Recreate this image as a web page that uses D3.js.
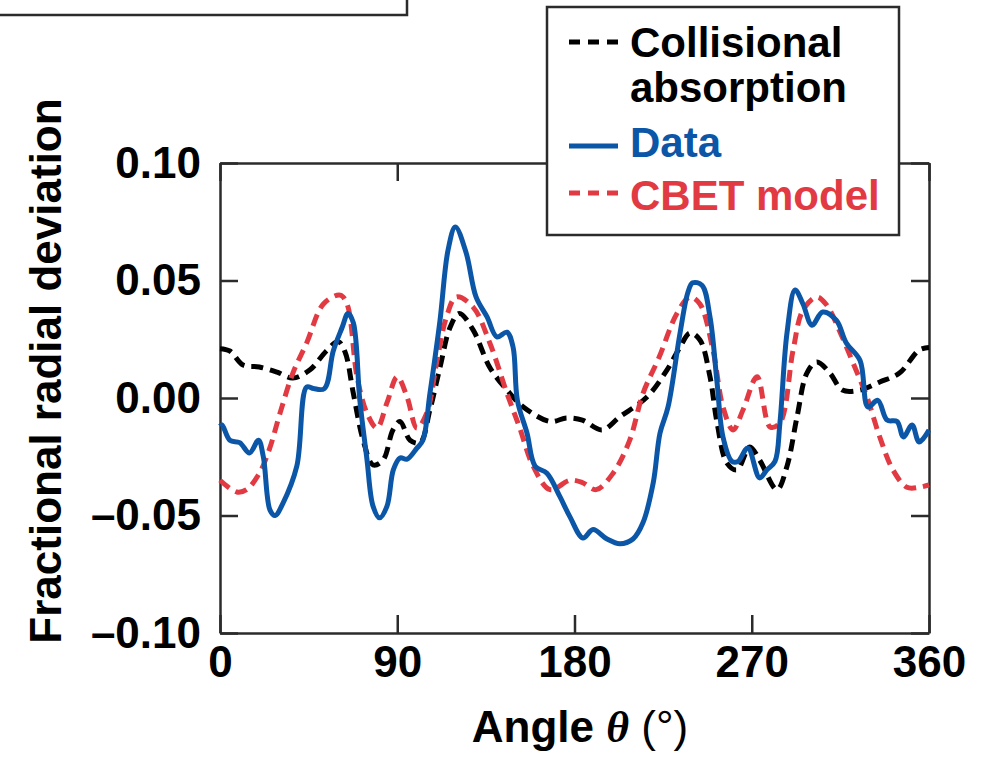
<!DOCTYPE html>
<html>
<head>
<meta charset="utf-8">
<script src="https://cdn.jsdelivr.net/npm/d3@7"></script>
<style>
  body { margin: 0; background: #fff; }
  svg text { font-family: "Liberation Sans", Arial, Helvetica, sans-serif; }
</style>
</head>
<body>
<svg id="chart"></svg>
<script>
// angle (deg), value pairs
const collisional = [
  [0, 0.021], [5, 0.020], [11.7, 0.014], [20, 0.0132], [29, 0.011], [37, 0.0085],
  [45.7, 0.012], [54, 0.020], [60, 0.024], [63.5, 0.0196], [67.7, 0.002], [72.7, -0.018],
  [77.7, -0.0285], [82.8, -0.0264], [87.8, -0.0136], [91.4, -0.010], [96.5, -0.018],
  [101.6, -0.019], [106.6, -0.005], [111.7, 0.013], [116.8, 0.030], [121.5, 0.036],
  [128.5, 0.029], [137, 0.013], [145.7, 0.0034], [154, -0.0038], [167.6, -0.010],
  [176, -0.0085], [184, -0.0094], [194, -0.0136], [203, -0.008], [216.8, 0.0004],
  [227, 0.012], [233.6, 0.0217], [238.6, 0.0277], [243.7, 0.0247], [248.8, 0.009],
  [252.4, -0.0106], [257.4, -0.0277], [262.5, -0.0306], [269, -0.0208], [274, -0.0264],
  [282.8, -0.039], [287.9, -0.029], [293, -0.008], [298, 0.0106], [303, 0.0153],
  [309.7, 0.0106], [316, 0.0034], [325, 0.0034], [335, 0.0068], [345, 0.0106],
  [355, 0.0204], [360, 0.0215]
];

const cbet = [
  [0, -0.035], [8.5, -0.040], [13.5, -0.039], [20, -0.032], [25, -0.022], [30.5, -0.0064],
  [37, 0.0106], [44, 0.0234], [52.5, 0.040], [61, 0.0438], [64.5, 0.040], [69.6, 0.009],
  [74.6, -0.0064], [79.7, -0.0128], [84.8, -0.002], [90, 0.009], [95, 0.0004],
  [100, -0.0128], [105, -0.0064], [110, 0.015], [115, 0.0345], [120, 0.043],
  [128.5, 0.0387], [137, 0.0234], [145.7, 0.002], [152, -0.0123], [159, -0.029],
  [167.6, -0.039], [177.7, -0.035], [184, -0.036], [191, -0.039], [199.6, -0.032],
  [208, -0.018], [214.8, 0.002], [223, 0.0174], [232, 0.036], [238.6, 0.043],
  [243.7, 0.040], [250.3, 0.0204], [255.4, -0.0038], [260.5, -0.0136], [265.6, -0.005],
  [272.7, 0.009], [279.3, -0.0123], [284.3, -0.0106], [291, 0.0204], [296, 0.0374],
  [303, 0.043], [308, 0.0396], [315, 0.0277], [321.4, 0.015], [328.5, 0.0004],
  [335, -0.0166], [341.7, -0.0306], [348.8, -0.038], [355, -0.038], [360, -0.037]
];

const measured = [
  [0, -0.012], [1, -0.0115], [5, -0.018], [10, -0.019], [15, -0.0234], [19.5, -0.018],
  [22, -0.025], [25.4, -0.0477], [28, -0.050], [32, -0.0447], [39, -0.029], [44, 0.0047],
  [47.5, 0.004], [53, 0.004], [57.5, 0.020], [62, 0.030], [65, 0.036], [67.7, 0.032],
  [71, -0.001], [74.6, -0.026], [77.7, -0.046], [81, -0.051], [84.8, -0.046],
  [88, -0.0306], [91.4, -0.0255], [95, -0.026], [100, -0.0213], [103, -0.018],
  [106.6, 0.002], [111.7, 0.033], [115.8, 0.063], [119.5, 0.0728], [125, 0.0617],
  [130, 0.043], [135.6, 0.0345], [140.6, 0.026], [145.7, 0.028], [148.8, 0.0217],
  [151, -0.001], [155.9, -0.015], [160, -0.029], [166, -0.032], [172.6, -0.042],
  [177.7, -0.0506], [184.3, -0.0596], [189.4, -0.056], [196.5, -0.060], [203, -0.062],
  [209.7, -0.060], [214.8, -0.053], [220, -0.036], [223.4, -0.015], [227.5, -0.0038],
  [233.6, 0.0277], [237.6, 0.045], [240, 0.049], [244.7, 0.048], [248.8, 0.0345],
  [252.4, 0.0064], [255.4, -0.0166], [260, -0.027], [263, -0.027], [268, -0.0213],
  [274, -0.034], [277.7, -0.0306], [281.8, -0.027], [284.3, -0.0106], [287.9, 0.0277],
  [292, 0.046], [296, 0.040], [300.6, 0.031], [306, 0.0366], [313, 0.033], [318, 0.0234],
  [325, 0.016], [329, -0.0038], [334, -0.001], [338.7, -0.0094], [343.8, -0.010],
  [347, -0.0166], [351.4, -0.0115], [355, -0.0187], [360, -0.0136]
];

const xTicks = [0, 90, 180, 270, 360];
const yTicks = [-0.10, -0.05, 0.00, 0.05, 0.10];

const legendItems = [
  { lines: ["Collisional", "absorption"], color: "#000", dash: "11,8" },
  { lines: ["Data"], color: "#0b56a6", dash: null },
  { lines: ["CBET model"], color: "#e23a43", dash: "11,8" }
];

const width = 988, height = 761;
const frame = "#2b2b2b";

const svg = d3.select("#chart")
  .attr("width", width)
  .attr("height", height);

const x = d3.scaleLinear().domain([0, 360]).range([220, 929]);
const y = d3.scaleLinear().domain([-0.10, 0.10]).range([633, 163]);

const fmt = d => (d < 0 ? "\u2013" : "") + Math.abs(d).toFixed(2);

// partial box at top left
svg.append("path")
  .attr("d", "M0,15H407V0")
  .attr("fill", "none")
  .attr("stroke", frame)
  .attr("stroke-width", 2.5);

// axes, ticks pointing inward
function styleAxis(g) {
  g.selectAll(".domain").attr("stroke", frame).attr("stroke-width", 2.5);
  g.selectAll(".tick line").attr("stroke", frame).attr("stroke-width", 2.5);
  g.selectAll(".tick text")
    .attr("fill", "#000")
    .style("font-size", "44px")
    .style("font-weight", "bold");
}

svg.append("g")
  .attr("transform", "translate(0," + 633 + ")")
  .call(d3.axisBottom(x).tickValues(xTicks).tickSizeInner(-18).tickSizeOuter(0).tickPadding(13))
  .call(styleAxis);

svg.append("g")
  .attr("transform", "translate(0," + 163 + ")")
  .call(d3.axisTop(x).tickValues(xTicks).tickSizeInner(-18).tickSizeOuter(0).tickFormat(""))
  .call(styleAxis);

svg.append("g")
  .attr("transform", "translate(" + 220 + ",0)")
  .call(d3.axisLeft(y).tickValues(yTicks).tickSizeInner(-18).tickSizeOuter(0).tickPadding(19).tickFormat(fmt))
  .call(styleAxis);

svg.append("g")
  .attr("transform", "translate(" + 929 + ",0)")
  .call(d3.axisRight(y).tickValues(yTicks).tickSizeInner(-18).tickSizeOuter(0).tickFormat(""))
  .call(styleAxis);

// curves
const line = d3.line()
  .x(d => x(d[0]))
  .y(d => y(d[1]))
  .curve(d3.curveCatmullRom.alpha(0.5));

const series = [
  { data: collisional, color: "#000", dash: "12,7" },
  { data: cbet, color: "#e23a43", dash: "12,7" },
  { data: measured, color: "#0b56a6", dash: null }
];

svg.append("g")
  .selectAll("path")
  .data(series)
  .enter().append("path")
  .attr("d", d => line(d.data))
  .attr("fill", "none")
  .attr("stroke", d => d.color)
  .attr("stroke-width", 5)
  .attr("stroke-linejoin", "round")
  .attr("stroke-dasharray", d => d.dash);

// legend
const leg = svg.append("g");
leg.append("rect")
  .attr("x", 547).attr("y", 7)
  .attr("width", 352).attr("height", 228)
  .attr("fill", "#fff")
  .attr("stroke", frame)
  .attr("stroke-width", 2.5);

const legBase = [57, 157, 210];
const legLineY = [42, 146, 193];
legendItems.forEach((item, i) => {
  leg.append("line")
    .attr("x1", 569).attr("x2", 618)
    .attr("y1", legLineY[i]).attr("y2", legLineY[i])
    .attr("stroke", item.color)
    .attr("stroke-width", 5)
    .attr("stroke-dasharray", item.dash);
  const t = leg.append("text")
    .attr("x", 630).attr("y", legBase[i])
    .attr("fill", item.color)
    .style("font-size", "42px")
    .style("font-weight", "bold");
  item.lines.forEach((s, j) => {
    t.append("tspan").attr("x", 630).attr("dy", j ? 45 : 0).text(s);
  });
});

// axis titles
svg.append("text")
  .attr("transform", "translate(61,371) rotate(-90)")
  .attr("text-anchor", "middle")
  .style("font-size", "44px")
  .style("font-weight", "bold")
  .text("Fractional radial deviation");

const xt = svg.append("text")
  .attr("x", 580).attr("y", 742)
  .attr("text-anchor", "middle")
  .style("font-size", "44px");
xt.append("tspan").style("font-weight", "bold").text("Angle ");
xt.append("tspan")
  .style("font-family", "'Liberation Serif', 'Times New Roman', serif")
  .style("font-style", "italic")
  .style("font-weight", "bold")
  .text("\u03B8");
xt.append("tspan").text(" (\u00B0)");
</script>
</body>
</html>
